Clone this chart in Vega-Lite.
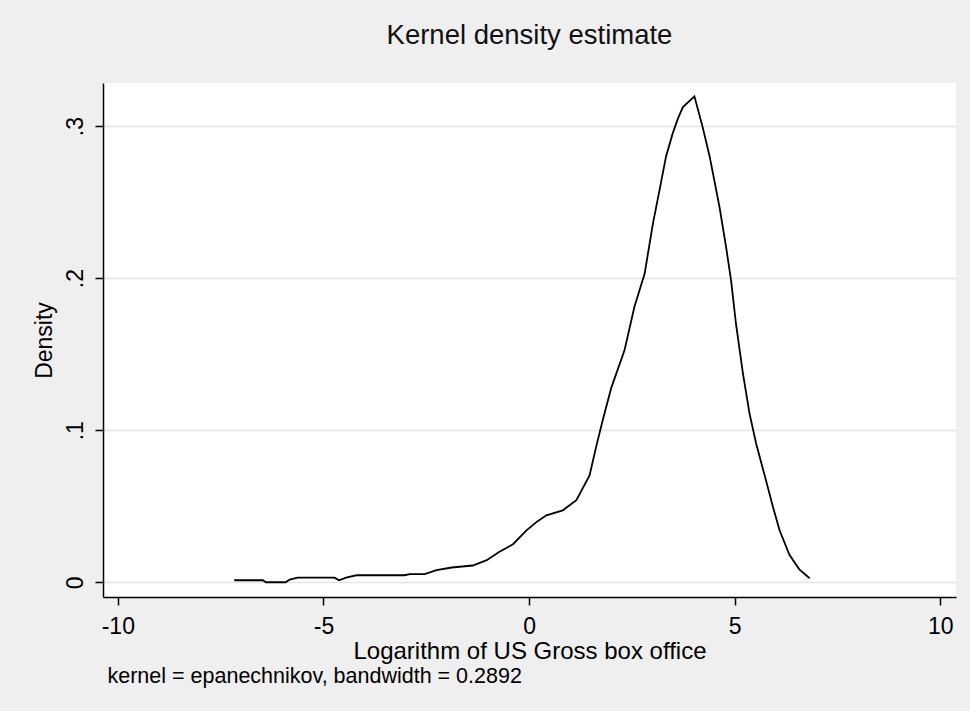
{
  "$schema": "https://vega.github.io/schema/vega-lite/v6.json",
  "width": 853,
  "height": 514,
  "autosize": {"type": "none"},
  "padding": {"left": 103, "top": 83, "right": 14, "bottom": 114},
  "background": "#efefef",
  "title": {"text": "Kernel density estimate", "fontSize": 27.5, "font": "Liberation Sans", "fontWeight": "normal", "color": "#111111", "offset": 34, "anchor": "middle"},
  "config": {"view": {"fill": "white", "stroke": null}, "font": "Liberation Sans"},
  "data": {"values": [
    {"x": -7.17, "density": 0.0013},
    {"x": -6.47, "density": 0.0013},
    {"x": -6.40, "density": 0.0000},
    {"x": -5.92, "density": 0.0000},
    {"x": -5.82, "density": 0.0018},
    {"x": -5.63, "density": 0.0030},
    {"x": -4.73, "density": 0.0030},
    {"x": -4.62, "density": 0.0013},
    {"x": -4.45, "density": 0.0030},
    {"x": -4.20, "density": 0.0046},
    {"x": -3.73, "density": 0.0046},
    {"x": -3.03, "density": 0.0046},
    {"x": -2.90, "density": 0.0053},
    {"x": -2.54, "density": 0.0053},
    {"x": -2.25, "density": 0.0079},
    {"x": -1.88, "density": 0.0097},
    {"x": -1.37, "density": 0.0110},
    {"x": -1.03, "density": 0.0145},
    {"x": -0.72, "density": 0.0200},
    {"x": -0.39, "density": 0.0250},
    {"x": -0.07, "density": 0.0340},
    {"x": 0.20, "density": 0.0400},
    {"x": 0.42, "density": 0.0440},
    {"x": 0.82, "density": 0.0473},
    {"x": 1.15, "density": 0.0540},
    {"x": 1.47, "density": 0.0703},
    {"x": 1.63, "density": 0.0890},
    {"x": 1.79, "density": 0.1065},
    {"x": 2.00, "density": 0.1280},
    {"x": 2.32, "density": 0.1525},
    {"x": 2.56, "density": 0.1810},
    {"x": 2.81, "density": 0.2030},
    {"x": 3.01, "density": 0.2357},
    {"x": 3.17, "density": 0.2577},
    {"x": 3.33, "density": 0.2800},
    {"x": 3.49, "density": 0.2950},
    {"x": 3.62, "density": 0.3050},
    {"x": 3.74, "density": 0.3125},
    {"x": 4.02, "density": 0.3195},
    {"x": 4.22, "density": 0.2993},
    {"x": 4.39, "density": 0.2800},
    {"x": 4.63, "density": 0.2467},
    {"x": 4.79, "density": 0.2204},
    {"x": 4.91, "density": 0.1986},
    {"x": 5.03, "density": 0.1700},
    {"x": 5.20, "density": 0.1372},
    {"x": 5.36, "density": 0.1109},
    {"x": 5.52, "density": 0.0912},
    {"x": 5.76, "density": 0.0670},
    {"x": 5.93, "density": 0.0495},
    {"x": 6.09, "density": 0.0342},
    {"x": 6.33, "density": 0.0180},
    {"x": 6.57, "density": 0.0085},
    {"x": 6.82, "density": 0.0026}
  ]},
  "layer": [
    {
      "mark": {"type": "line", "color": "black", "strokeWidth": 1.8},
      "encoding": {
        "x": {"field": "x", "type": "quantitative",
          "scale": {"domain": [-10.36, 10.38], "nice": false, "zero": false},
          "axis": {"orient": "bottom", "values": [-10, -5, 0, 5, 10], "labelExpr": "'' + datum.value", "grid": false, "tickSize": 8, "tickWidth": 1.5, "tickColor": "black", "domainColor": "black", "domainWidth": 1.5, "labelFontSize": 23, "labelPadding": 10, "labelColor": "black", "title": "Logarithm of US Gross box office", "titleFontSize": 24, "titleFontWeight": "normal", "titleColor": "black", "titlePadding": 1}},
        "y": {"field": "density", "type": "quantitative",
          "scale": {"domain": [-0.0097, 0.3283], "nice": false, "zero": false},
          "axis": {"values": [0, 0.1, 0.2, 0.3], "labelExpr": "datum.value == 0 ? '0' : replace(format(datum.value, '.1f'), '0.', '.')", "labelAngle": -90, "labelFontSize": 23, "labelPadding": 8, "labelColor": "black", "tickSize": 8, "tickWidth": 1.5, "tickColor": "black", "domainColor": "black", "domainWidth": 1.5, "grid": true, "gridColor": "#e4e4e4", "gridWidth": 1.5, "title": "Density", "titleFontSize": 23, "titleFontWeight": "normal", "titleColor": "black", "titlePadding": 8}}
      }
    },
    {
      "mark": {"type": "line", "strokeOpacity": 0},
      "encoding": {
        "x": {"field": "x", "type": "quantitative",
          "axis": {"orient": "bottom", "title": "kernel = epanechnikov, bandwidth = 0.2892", "labels": false, "ticks": false, "domain": false, "grid": false, "titleAnchor": "start", "titleAlign": "left", "titleX": 4, "titleFontSize": 21.5, "titleFontWeight": "normal", "titleColor": "black", "titlePadding": 0, "offset": 68}}
      }
    }
  ],
  "resolve": {"axis": {"x": "independent"}}
}
